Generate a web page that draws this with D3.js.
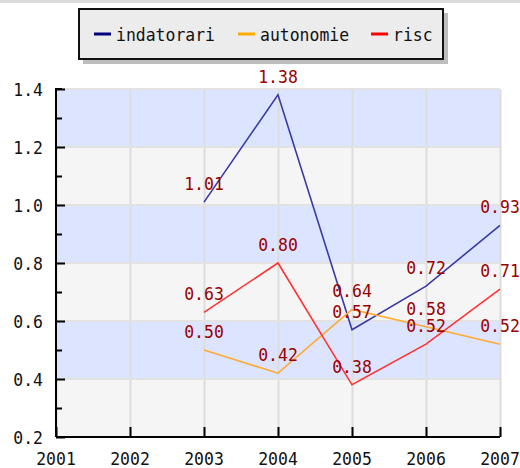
<!DOCTYPE html>
<html lang="en">
<head>
    <meta charset="UTF-8">
    <title>indatorari</title>
    <script src="https://cdnjs.cloudflare.com/ajax/libs/d3/7.8.5/d3.min.js"></script>
    <style>
        body { margin: 0; background: #fff; }
        text { font-family: "DejaVu Sans Mono", monospace; }
    </style>
</head>
<body>

<script>
    var years = [2001, 2002, 2003, 2004, 2005, 2006, 2007];
    var dataYears = [2003, 2004, 2005, 2006, 2007];
    var indatorari = [1.01, 1.38, 0.57, 0.72, 0.93];
    var autonomie = [0.50, 0.42, 0.64, 0.58, 0.52];
    var risc = [0.63, 0.80, 0.38, 0.52, 0.71];
    var yTicks = [0.2, 0.4, 0.6, 0.8, 1.0, 1.2, 1.4];

    var series = [
        {name: "indatorari", values: indatorari, color: "#3a3aa6", key: "#000080"},
        {name: "autonomie", values: autonomie, color: "#ffaa33", key: "#ffaa00"},
        {name: "risc", values: risc, color: "#ff3333", key: "#ff0000"}
    ];

    var width = 520, height = 468,
        fs = 18,     // font looks a bit tall and narrow,
        charW = 9.9; // so squeeze it with textLength

    var svg = d3.select("body").append("svg")
            .attr("width", width)
            .attr("height", height);

    var x = d3.scaleLinear().domain([2001, 2007]).range([56, 500]);
    var y = d3.scaleLinear().domain([0.2, 1.4]).range([437, 89]);

    function squeeze(sel) {
        sel.attr("font-size", fs)
            .attr("lengthAdjust", "spacingAndGlyphs")
            .attr("textLength", function() { return this.textContent.length * charW; });
    }

    // thin grey strip along the top
    svg.append("rect").attr("x", 0).attr("y", 0).attr("width", width).attr("height", 3).attr("fill", "#dcdcdc");

    // alternating bands
    var bands = d3.range(0, yTicks.length - 1);
    svg.selectAll("rect.band").data(bands).enter().append("rect")
        .attr("class", "band")
        .attr("x", x(2001))
        .attr("width", x(2007) - x(2001))
        .attr("y", function(i) { return y(yTicks[i + 1]); })
        .attr("height", function(i) { return y(yTicks[i]) - y(yTicks[i + 1]); })
        .attr("fill", function(i) { return i % 2 === 0 ? "#f5f5f5" : "#dde4ff"; });

    // grid
    svg.selectAll("line.vgrid").data(years).enter().append("line")
        .attr("x1", function(d) { return x(d) + 0.5; }).attr("x2", function(d) { return x(d) + 0.5; })
        .attr("y1", y(1.4)).attr("y2", y(0.2))
        .attr("stroke", "#dddddd").attr("stroke-width", 2);
    svg.selectAll("line.hgrid").data(yTicks).enter().append("line")
        .attr("x1", x(2001)).attr("x2", x(2007))
        .attr("y1", function(d) { return y(d); }).attr("y2", function(d) { return y(d); })
        .attr("stroke", "#e2e2e2").attr("stroke-width", 2);

    // axes
    var yAxis = d3.axisRight(y).tickValues(d3.range(0.2, 1.41, 0.1)).tickSize(6).tickFormat("");
    svg.append("g").attr("transform", "translate(" + x(2001) + ",0)").call(yAxis)
        .call(function(g) {
            g.select(".domain").attr("stroke-width", 2).attr("d", "M6," + y(1.4) + "H0V" + y(0.2));
            g.selectAll(".tick line").attr("stroke-width", 2)
                .attr("x2", function(d) { return Math.round(d * 10) % 2 === 0 ? 9 : 6; });
        });
    svg.selectAll("text.ylab").data(yTicks).enter().append("text")
        .attr("x", 43).attr("y", function(d) { return y(d) + 7; })
        .attr("text-anchor", "end").attr("fill", "#111")
        .text(function(d) { return d.toFixed(1); })
        .call(squeeze);

    var xAxis = d3.axisTop(x).tickValues(years).tickSize(10).tickFormat("");
    svg.append("g").attr("transform", "translate(0," + y(0.2) + ")").call(xAxis)
        .call(function(g) {
            g.select(".domain").attr("stroke-width", 2).attr("d", "M" + x(2001) + ",0H" + x(2007));
            g.selectAll(".tick line").attr("stroke-width", 2);
        });
    svg.selectAll("text.xlab").data(years).enter().append("text")
        .attr("x", function(d) { return x(d); }).attr("y", 465)
        .attr("text-anchor", "middle").attr("fill", "#111")
        .text(function(d) { return d; })
        .call(squeeze);

    // lines
    var line = d3.line()
        .x(function(d, i) { return x(dataYears[i]); })
        .y(function(d) { return y(d); });
    svg.selectAll("path.series").data(series).enter().append("path")
        .attr("d", function(s) { return line(s.values); })
        .attr("fill", "none")
        .attr("stroke", function(s) { return s.color; })
        .attr("stroke-width", 1.6);

    // value labels
    series.forEach(function(s) {
        svg.selectAll(null).data(s.values).enter().append("text")
            .attr("x", function(d, i) { return x(dataYears[i]); })
            .attr("y", function(d) { return y(d) - 12; })
            .attr("text-anchor", "middle").attr("fill", "#990000")
            .text(function(d) { return d.toFixed(2); })
            .call(squeeze);
    });

    // legend
    var legend = svg.append("g");
    legend.append("rect").attr("x", 83).attr("y", 13).attr("width", 365).attr("height", 51).attr("fill", "#bdbdbd");
    legend.append("rect").attr("x", 79).attr("y", 9).attr("width", 364).attr("height", 50)
        .attr("fill", "#ececec").attr("stroke", "#111").attr("stroke-width", 2);
    var keyX = [94, 238, 371];
    series.forEach(function(s, i) {
        legend.append("line").attr("x1", keyX[i]).attr("x2", keyX[i] + 17)
            .attr("y1", 34).attr("y2", 34).attr("stroke", s.key).attr("stroke-width", 3);
        legend.append("text").attr("x", keyX[i] + 22).attr("y", 41)
            .attr("fill", "#111").text(s.name).call(squeeze);
    });
</script>

</body>
</html>
